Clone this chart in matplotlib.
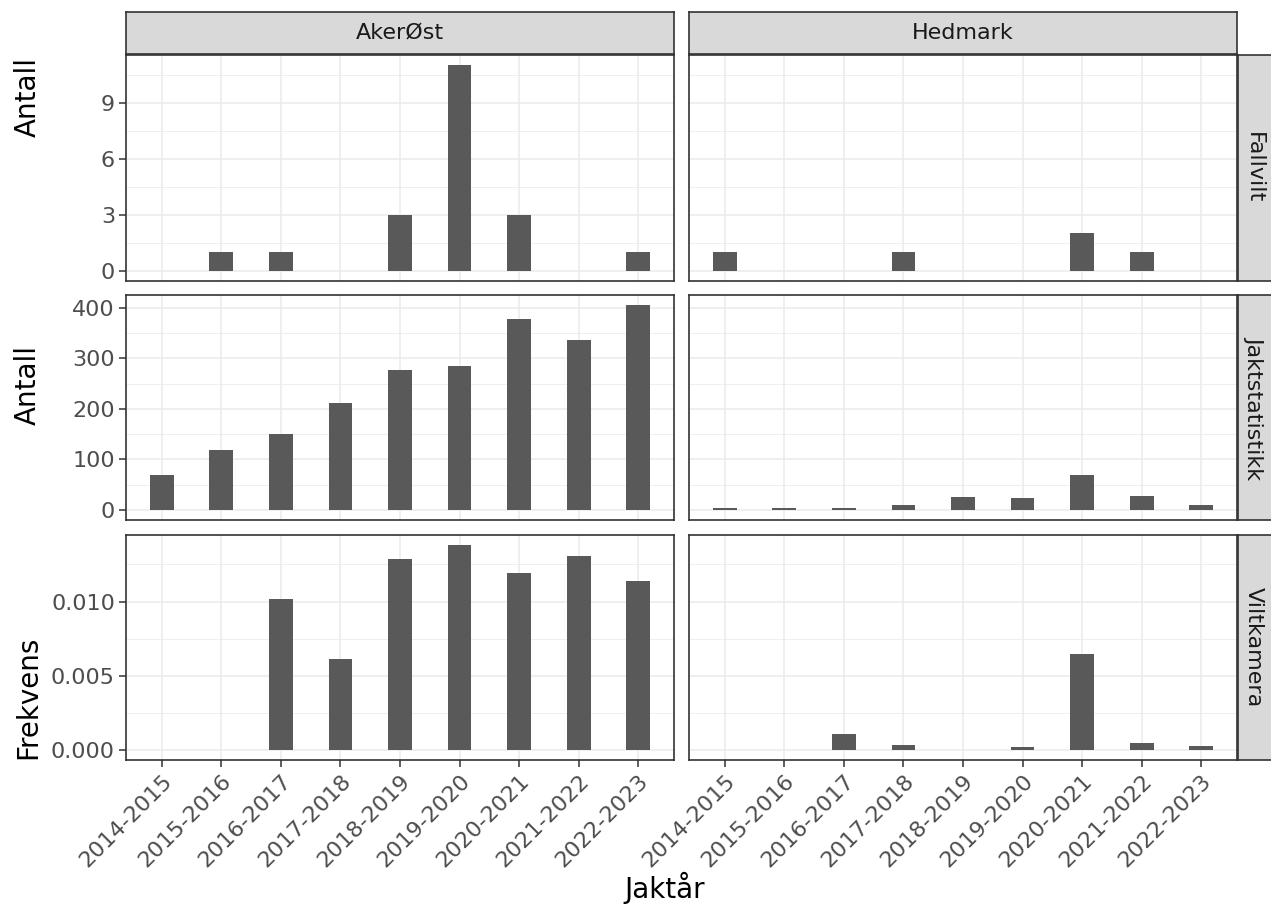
import numpy as np
import matplotlib
matplotlib.use("Agg")
import matplotlib.pyplot as plt
from matplotlib.ticker import FixedLocator

# seasons on the x axis
seasons = ['2014-2015', '2015-2016', '2016-2017', '2017-2018', '2018-2019',
           '2019-2020', '2020-2021', '2021-2022', '2022-2023']
areas = ['AkerØst', 'Hedmark']
sources = ['Fallvilt', 'Jaktstatistikk', 'Viltkamera']
nan = np.nan

# Fallvilt (counts)
fallvilt_aker = [nan, 1, 1, nan, 3, 11, 3, nan, 1]
fallvilt_hedmark = [1, nan, nan, 1, nan, nan, 2, 1, nan]
# Jaktstatistikk (counts)
jakt_aker = [69, 119, 150, 211, 276, 285, 378, 337, 405]
jakt_hedmark = [4, 4, 4, 10, 26, 24, 69, 27, 9]
# Viltkamera (frequency)
kamera_aker = [nan, nan, 0.0102, 0.0061, 0.0129, 0.0138, 0.0119, 0.0131, 0.0114]
kamera_hedmark = [nan, nan, 0.00106, 0.00032, nan, 0.0002, 0.00646, 0.00045, 0.00025]

rows = [
    (fallvilt_aker, fallvilt_hedmark),
    (jakt_aker, jakt_hedmark),
    (kamera_aker, kamera_hedmark),
]
major_steps = [3, 100, 0.005]
ytitles = ['Antall', 'Antall', 'Frekvens']
ytitle_y = [97, 385, 697]  # pixel centre of each y title
yfmt = [lambda v: f"{v:g}", lambda v: f"{v:g}", lambda v: f"{v:.3f}"]

W, H = 1271, 906
fig = plt.figure(figsize=(W / 100, H / 100), dpi=100)
plt.rcParams['font.family'] = 'DejaVu Sans'

col_x = [(126, 674), (689, 1237)]
row_y = [(55, 281), (295, 520), (535, 760)]
strip_top = (12, 54)
strip_right = (1238, 1271)

GRID = '#EBEBEB'
BORDER = '#333333'
STRIP = '#D9D9D9'
BAR = '#595959'
TICKTXT = '#4D4D4D'
TICKSIZE = 16


def px_axes(x0, x1, y0, y1):
    return fig.add_axes([x0 / W, 1 - y1 / H, (x1 - x0) / W, (y1 - y0) / H])


x = np.arange(1, len(seasons) + 1)

for r, (data_pair, step) in enumerate(zip(rows, major_steps)):
    vmax = np.nanmax(np.concatenate([np.asarray(d, float) for d in data_pair]))
    pad = vmax * 0.05
    ylim = (-pad, vmax + pad)
    for c, vals in enumerate(data_pair):
        ax = px_axes(col_x[c][0], col_x[c][1], row_y[r][0], row_y[r][1])
        vals = np.asarray(vals, float)
        ok = ~np.isnan(vals)
        ax.bar(x[ok], vals[ok], width=0.4, color=BAR, zorder=3)
        ax.set_xlim(0.4, len(seasons) + 0.6)
        ax.set_ylim(*ylim)

        majors = np.arange(0, vmax + step * 0.001, step)
        minors = np.arange(step / 2, ylim[1], step)
        ax.yaxis.set_major_locator(FixedLocator(majors))
        ax.yaxis.set_minor_locator(FixedLocator(minors))
        ax.set_xticks(x)
        ax.grid(which='major', axis='both', color=GRID, lw=1.1, zorder=0)
        ax.grid(which='minor', axis='y', color=GRID, lw=0.55, zorder=0)
        ax.set_axisbelow(True)
        for s in ax.spines.values():
            s.set_color(BORDER)
            s.set_linewidth(1.2)
            s.set_zorder(5)

        ax.tick_params(which='minor', length=0)
        ax.tick_params(which='major', length=5, width=1.1, color=BORDER,
                       labelcolor=TICKTXT, labelsize=TICKSIZE, pad=3)
        if c == 0:
            ax.set_yticklabels([yfmt[r](v) for v in majors])
        else:
            ax.tick_params(axis='y', length=0, labelleft=False)
        if r == 2:
            ax.set_xticklabels(seasons, rotation=45, ha='right',
                               rotation_mode='anchor')
        else:
            ax.tick_params(axis='x', length=0, labelbottom=False)

    # right-hand facet strip
    sax = px_axes(strip_right[0], strip_right[1] + 5, row_y[r][0], row_y[r][1])
    sax.set_facecolor(STRIP)
    sax.set_xticks([])
    sax.set_yticks([])
    for s in sax.spines.values():
        s.set_color(BORDER)
        s.set_linewidth(1.2)
    sax.text(0.42, 0.5, sources[r], rotation=-90, ha='center', va='center',
             fontsize=16, color='#1A1A1A', transform=sax.transAxes)

    fig.text(28 / W, 1 - ytitle_y[r] / H, ytitles[r], rotation=90,
             ha='center', va='center', fontsize=20, color='black')

# top facet strips
for c, name in enumerate(areas):
    sax = px_axes(col_x[c][0], col_x[c][1], strip_top[0], strip_top[1])
    sax.set_facecolor(STRIP)
    sax.set_xticks([])
    sax.set_yticks([])
    for s in sax.spines.values():
        s.set_color(BORDER)
        s.set_linewidth(1.2)
    sax.text(0.5, 0.5, name, ha='center', va='center', fontsize=16,
             color='#1A1A1A', transform=sax.transAxes)

fig.text(665 / W, 1 - 888 / H, 'Jaktår', ha='center', va='center',
         fontsize=20, color='black')

fig.savefig('out.png', dpi=100, facecolor='white')
